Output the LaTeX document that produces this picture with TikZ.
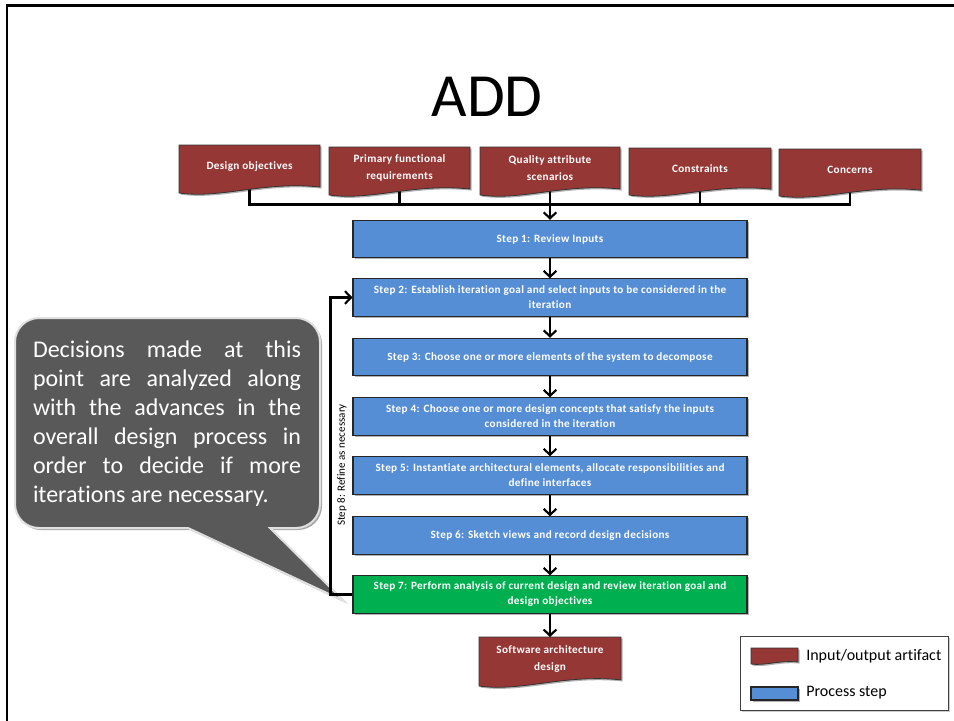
\documentclass[tikz,border=0pt]{standalone}
\usepackage{fontspec}
\setmainfont{Carlito}[Ligatures={NoCommon}]
\newfontfamily\lblfont[LetterSpace=3,Ligatures={NoCommon}]{Carlito}
\usetikzlibrary{arrows.meta,shadows,calc}
\definecolor{artred}{HTML}{953735}
\definecolor{stepblue}{HTML}{558ED5}
\definecolor{stepgreen}{HTML}{00B050}
\definecolor{callgray}{HTML}{595959}
\pgfdeclarelayer{bg}
\pgfsetlayers{bg,main}

% document shape with a wavy bottom edge: name, x1, top y, x2, bottom y, text
\newcommand\docshape[6]{%
  \pgfmathsetmacro\dw{#4-#2}%
  \pgfmathsetmacro\dh{#5-#3}%
  \path[docfill] (#2,#3) -- (#4,#3) -- (#4,#5-\dh/8)
     .. controls (#2+0.6*\dw,#5-\dh/4) and (#2+0.3*\dw,#5+\dh/8) .. (#2,#5) -- cycle;
  \node[doctext] (#1) at ({(#2+#4)/2},{#3+0.44*\dh}) {#6};
}

\begin{document}
\begin{tikzpicture}[x=0.75pt,y=-0.75pt,
  softshadow/.style={drop shadow={shadow xshift=1.2pt,shadow yshift=-1.2pt,opacity=0.3,fill=black}},
  conn/.style={line width=1.6pt,black},
  arr/.style={conn,-{Straight Barb[length=4.5pt,width=9.5pt]}},
  docfill/.style={fill=artred,draw=black!80,line width=0.6pt,softshadow},
  doctext/.style={text=white,font=\lblfont\bfseries\fontsize{8.4}{12.75}\selectfont,align=center,inner sep=0pt},
  stepbox/.style={draw=black!85,line width=0.8pt,fill=stepblue,minimum width=295.5pt,minimum height=28pt,
    text=white,font=\lblfont\bfseries\fontsize{8.4}{11.25}\selectfont,align=center,inner sep=0pt,softshadow},
  legtext/.style={font=\fontsize{12}{14}\selectfont,anchor=west,inner sep=0pt}]

\useasboundingbox (0,0) rectangle (954,721);

% slide frame
\draw[line width=2.2pt] (954,5.5) -- (7,5.5) -- (7,721);

% title
\node[font=\fontsize{46}{54}\selectfont,inner sep=0pt] (title) at (487,97) {ADD};

% input artifacts
\docshape{d1}{179}{145}{320}{193}{Design objectives}
\docshape{d2}{329}{147}{470}{195}{Primary functional\\requirements}
\docshape{d3}{480}{147}{620}{195}{Quality attribute\\scenarios}
\docshape{d4}{629}{148}{771}{195}{Constraints}
\docshape{d5}{779}{149}{921}{196}{Concerns}

% process steps
\node[stepbox] (s1) at (550,239) {Step 1: Review Inputs};
\node[stepbox] (s2) at (550,297.5) {Step 2: Establish iteration goal and select inputs to be considered in the\\iteration};
\node[stepbox] (s3) at (550,357) {Step 3: Choose one or more elements of the system to decompose};
\node[stepbox] (s4) at (550,416.5) {Step 4: Choose one or more design concepts that satisfy the inputs\\considered in the iteration};
\node[stepbox] (s5) at (550,475.5) {Step 5: Instantiate architectural elements, allocate responsibilities and\\define interfaces};
\node[stepbox] (s6) at (550,535.5) {Step 6: Sketch views and record design decisions};
\node[stepbox,fill=stepgreen] (s7) at (550,594.5) {Step 7: Perform analysis of current design and review iteration goal and\\design objectives};

% output artifact
\docshape{out}{479}{637}{621}{686}{Software architecture\\design}
\coordinate (outtop) at (550,637);

% inputs joined on a common bus
\coordinate (bus) at (550,204.5);
\begin{pgfonlayer}{bg}
  \draw[conn] (d1.center) |- (bus) -| (d5.center);
  \draw[conn] (d2.center) -- (d2.center |- bus);
  \draw[conn] (d4.center) -- (d4.center |- bus);
  \draw[conn] (d3.center) -- (bus);
\end{pgfonlayer}
\draw[arr] (bus) -- (s1);

% flow between the steps
\draw[arr] (s1) -- (s2);
\draw[arr] (s2) -- (s3);
\draw[arr] (s3) -- (s4);
\draw[arr] (s4) -- (s5);
\draw[arr] (s5) -- (s6);
\draw[arr] (s6) -- (s7);
\draw[arr] (s7) -- (outtop);

% callout: rounded box with a pointer towards step 7
\path[fill=callgray,draw=white!88!black,line width=1.5pt,
      drop shadow={shadow xshift=1.5pt,shadow yshift=-1.5pt,opacity=0.35,fill=black}]
  (188,528) -- (39,528) .. controls (25.75,528) and (15,517.25) .. (15,504)
  -- (15,342) .. controls (15,328.75) and (25.75,318) .. (39,318)
  -- (296,318) .. controls (309.25,318) and (320,328.75) .. (320,342)
  -- (320,504) .. controls (320,517.25) and (309.25,528) .. (296,528)
  -- (270,528) -- (344,601) -- cycle;
\node[text width=201pt,align=justify,text=white,inner sep=0pt,
      font=\fontsize{18}{21.75}\selectfont] (note) at (167,424)
  {Decisions made at this\linebreak point are analyzed along\linebreak with the advances in the\linebreak overall design process in\linebreak order to decide if more\linebreak iterations are necessary.};

% iteration loop
\draw[arr] (s7.west) -- ++(-22,0) |- (s2.west);
\node[rotate=90,font=\fontsize{8.3}{10}\selectfont,inner sep=0pt] (refine) at (342,465) {Step 8: Refine as necessary};

% legend
\node[draw=black!75,line width=0.6pt,fill=white,minimum width=156pt,minimum height=55.5pt,
      drop shadow={shadow xshift=1.2pt,shadow yshift=-1.2pt,opacity=0.2,fill=black}] (legend) at (844.5,673) {};
\docshape{legdoc}{751}{648}{798}{664}{}
\node[stepbox,minimum width=35.25pt,minimum height=9.75pt] (legstep) at (774.5,693.5) {};
\node[legtext] (legdoctext) at (806,656) {Input/output artifact};
\node[legtext] (legsteptext) at (806,693) {Process step};

\end{tikzpicture}
\end{document}
